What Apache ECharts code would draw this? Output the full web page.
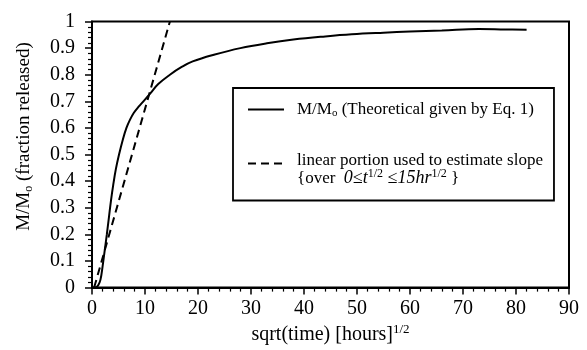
<!DOCTYPE html>
<html>
<head>
<meta charset="utf-8">
<script src="https://cdn.jsdelivr.net/npm/echarts@6/dist/echarts.min.js"></script>
<style>html,body{margin:0;padding:0;background:#fff}#c{width:587px;height:350px}</style>
</head>
<body>
<div id="c"></div>
<script>
// Data
var curveX = [0, 0.8, 1.2, 1.6, 2.0, 2.4, 2.8, 3.2, 3.6, 4.0, 4.5, 5.1, 5.8, 6.5, 7.2, 7.9, 8.8, 9.7, 11, 12.5, 14.7, 17, 19, 23, 28, 33, 38, 44, 49, 55, 60, 66, 73, 78, 82];
var curveY = [0, 0.002, 0.01, 0.03, 0.08, 0.14, 0.2, 0.265, 0.33, 0.385, 0.445, 0.5, 0.555, 0.6, 0.632, 0.657, 0.68, 0.7, 0.73, 0.765, 0.8, 0.83, 0.85, 0.875, 0.9, 0.918, 0.932, 0.944, 0.952, 0.958, 0.962, 0.966, 0.972, 0.97, 0.969];
var dashX = [0.4, 14.7];
var dashY = [0, 1];
var xTicks = [0, 10, 20, 30, 40, 50, 60, 70, 80, 90];
var yTicks = [0, 0.1, 0.2, 0.3, 0.4, 0.5, 0.6, 0.7, 0.8, 0.9, 1];

var serif = '"Liberation Serif", "DejaVu Serif", serif';
function pairs(xs, ys) { return xs.map(function (x, i) { return [x, ys[i]]; }); }

var chart = echarts.init(document.getElementById('c'), null, {renderer: 'canvas'});
chart.setOption({
  animation: false,
  backgroundColor: '#fff',
  textStyle: {fontFamily: serif, color: '#000'},
  grid: {left: 92, right: 18, top: 21.5, bottom: 58, show: true, borderColor: '#000', borderWidth: 2, backgroundColor: 'transparent'},
  xAxis: {
    type: 'value', min: xTicks[0], max: xTicks[xTicks.length - 1], interval: 10,
    axisLine: {show: true, lineStyle: {color: '#000', width: 2}},
    axisTick: {show: true, inside: false, length: 7, lineStyle: {color: '#000', width: 1.5}},
    minorTick: {show: true, splitNumber: 5, length: 4, lineStyle: {color: '#000', width: 1.2}},
    splitLine: {show: false},
    axisLabel: {color: '#000', fontFamily: serif, fontSize: 20, margin: 11},
    name: '{a|sqrt(time) [hours]}{s|1/2}',
    nameLocation: 'middle', nameGap: 33,
    nameTextStyle: {rich: {
      a: {fontFamily: serif, fontSize: 20, color: '#000'},
      s: {fontFamily: serif, fontSize: 13, color: '#000', padding: [0, 0, 10, 0]}
    }}
  },
  yAxis: {
    type: 'value', min: yTicks[0], max: yTicks[yTicks.length - 1], interval: 0.1,
    axisLine: {show: true, lineStyle: {color: '#000', width: 2}},
    axisTick: {show: true, inside: false, length: 7, lineStyle: {color: '#000', width: 1.5}},
    minorTick: {show: true, splitNumber: 5, length: 4, lineStyle: {color: '#000', width: 1.2}},
    splitLine: {show: false},
    axisLabel: {color: '#000', fontFamily: serif, fontSize: 20, margin: 17},
    name: '{a|M/M}{b|o}{a| (fraction released)}',
    nameLocation: 'middle', nameGap: 57,
    nameTextStyle: {padding: [0, 0, 0, 36], rich: {
      a: {fontFamily: serif, fontSize: 19, color: '#000'},
      b: {fontFamily: serif, fontSize: 12, color: '#000', padding: [9, 0, 0, 0]}
    }}
  },
  legend: {
    orient: 'vertical', left: 233, top: 88,
    padding: [13, 11, 13, 14], itemGap: 19,
    itemWidth: 36, itemHeight: 14,
    borderColor: '#000', borderWidth: 1.8, backgroundColor: '#fff',
    itemStyle: {opacity: 0},
    data: [{name: 'theory'}, {name: 'linear'}],
    formatter: function (n) {
      if (n === 'theory') return '{a|M/M}{b|o}{a| (Theoretical given by Eq. 1)}';
      return '{e| }\n{a|linear portion used to estimate slope}\n{a|{over  }{i|0\u2264t}{s|1/2}{i| \u226415hr}{s|1/2}{a| }}';
    },
    textStyle: {
      color: '#000', fontFamily: serif, fontSize: 17, padding: [0, 0, 0, 8],
      rich: {
        e: {fontSize: 15, lineHeight: 15},
        a: {fontFamily: serif, fontSize: 17, lineHeight: 15, color: '#000'},
        i: {fontFamily: serif, fontSize: 18, fontStyle: 'italic', lineHeight: 15, color: '#000'},
        b: {fontFamily: serif, fontSize: 11, color: '#000', padding: [8, 0, 0, 0]},
        s: {fontFamily: serif, fontSize: 12, color: '#000', padding: [0, 0, 9, 0]}
      }
    }
  },
  series: [
    {
      name: 'theory', type: 'line', data: pairs(curveX, curveY), smooth: 0.4,
      symbol: 'none', lineStyle: {color: '#000', width: 2}, itemStyle: {color: '#000'}, z: 3
    },
    {
      name: 'linear', type: 'line', data: pairs(dashX, dashY),
      symbol: 'none', lineStyle: {color: '#000', width: 2, type: [8, 5]}, itemStyle: {color: '#000'}, z: 3
    }
  ]
});
</script>
</body>
</html>
